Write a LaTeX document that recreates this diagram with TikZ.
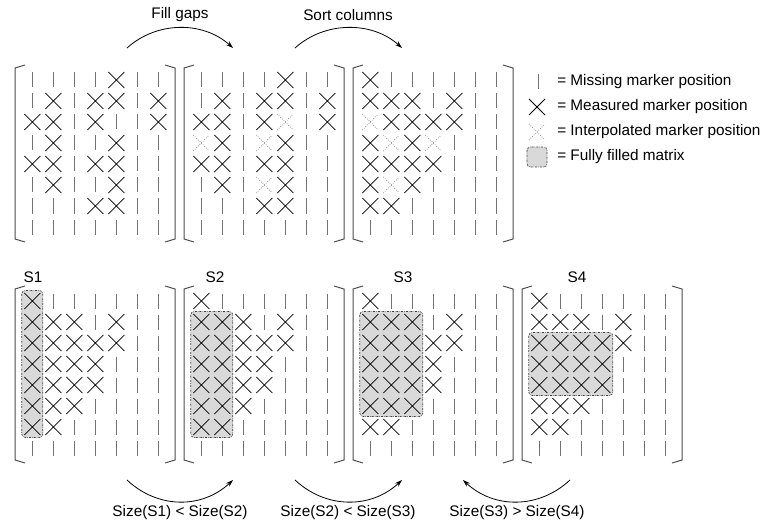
\documentclass[tikz,border=0pt]{standalone}
\usepackage{fontspec}
\setmainfont{Liberation Sans}
\usetikzlibrary{arrows.meta}

% Matrizen: m = fehlend, x = gemessen, i = interpoliert
\newcommand\rowsraw{%
{m,m,m,m,x,m,m},%
{m,x,m,x,x,m,x},%
{x,x,m,x,m,m,x},%
{m,x,m,m,x,m,m},%
{x,x,m,x,x,m,m},%
{m,x,m,m,x,m,m},%
{m,m,m,x,x,m,m},%
{m,m,m,m,m,m,m}}
\newcommand\rowsfill{%
{m,m,m,m,x,m,m},%
{m,x,m,x,x,m,x},%
{x,x,m,x,i,m,x},%
{i,x,m,i,x,m,m},%
{x,x,m,x,x,m,m},%
{m,x,m,i,x,m,m},%
{m,m,m,x,x,m,m},%
{m,m,m,m,m,m,m}}
\newcommand\rowssort{%
{x,m,m,m,m,m,m},%
{x,x,x,m,x,m,m},%
{i,x,x,x,x,m,m},%
{x,i,x,i,m,m,m},%
{x,x,x,x,m,m,m},%
{x,i,x,m,m,m,m},%
{x,x,m,m,m,m,m},%
{m,m,m,m,m,m,m}}
\newcommand\rowsfull{%
{x,m,m,m,m,m,m},%
{x,x,x,m,x,m,m},%
{x,x,x,x,x,m,m},%
{x,x,x,x,m,m,m},%
{x,x,x,x,m,m,m},%
{x,x,x,m,m,m,m},%
{x,x,m,m,m,m,m},%
{m,m,m,m,m,m,m}}

% ein Marker: #1 Typ, #2 x, #3 y
\newcommand\drawmark[3]{%
  \if x#1%
    \draw[measmark] ({#2-8},{#3-8}) -- ({#2+8},{#3+8}) ({#2-8},{#3+8}) -- ({#2+8},{#3-8});%
  \else\if i#1%
    \draw[interpmark] ({#2-8},{#3-8}) -- ({#2+8},{#3+8}) ({#2-8},{#3+8}) -- ({#2+8},{#3-8});%
  \else
    \draw[missmark] ({#2},{#3-7.5}) -- ({#2},{#3+7.5});%
  \fi\fi}

% Matrix mit Klammern: #1 links, #2 oben, #3 Zeilen
\newcommand\drawmatrix[3]{%
  \draw[bracketline] ({#1+10},{#2-2}) -- ({#1},{#2+1}) -- ({#1},{#2+172}) -- ({#1+10},{#2+175});
  \draw[bracketline] ({#1+150},{#2-2}) -- ({#1+160},{#2+1}) -- ({#1+160},{#2+172}) -- ({#1+150},{#2+175});
  \foreach \row [count=\ri] in #3 {
    \foreach \c [count=\ki] in \row {
      \pgfmathsetmacro\mx{#1+17.3+21*(\ki-1)}
      \pgfmathsetmacro\my{#2+13+21*(\ri-1)}
      \drawmark{\c}{\mx}{\my}
    }
  }}

\begin{document}
\begin{tikzpicture}[x=0.75pt, y=-0.75pt,
    missmark/.style={draw=black!55, line width=0.75pt},
    measmark/.style={draw=black, line width=0.55pt},
    interpmark/.style={draw=black!45, line width=0.6pt, dash pattern=on 0.5pt off 1.2pt},
    bracketline/.style={draw=black!70, line width=0.75pt},
    fullbox/.style={draw=black!75, fill=black!15, line width=0.5pt, rounded corners=2.5pt, dash pattern=on 1.5pt off 0.8pt on 0.4pt off 0.8pt},
    flowarc/.style={-{Stealth[length=5.5pt,width=3.6pt]}, line width=0.6pt},
    lbl/.style={font=\fontsize{11.5}{13.8}\selectfont, inner sep=0pt}
]
\useasboundingbox (0,0) rectangle (765,528);

% obere Reihe
\drawmatrix{15}{67}{\rowsraw}
\drawmatrix{184}{67}{\rowsfill}
\drawmatrix{353}{67}{\rowssort}

% Pfeile oben
\coordinate (fg-a) at (127,48);
\coordinate (fg-b) at (233,48);
\coordinate (sc-a) at (295,48);
\coordinate (sc-b) at (402,48);
\draw[flowarc] (fg-a) .. controls +(30,-27) and +(-30,-27) .. (fg-b);
\draw[flowarc] (sc-a) .. controls +(30,-27) and +(-30,-27) .. (sc-b);
\node[lbl] (fg-txt) at (180,15) {Fill gaps};
\node[lbl] (sc-txt) at (348,15) {Sort columns};

% Legende
\drawmark{m}{538}{82}
\drawmark{x}{537}{107}
\drawmark{i}{537}{132}
\draw[fullbox] (527,147) rectangle (547,167);
\node[lbl, anchor=west] (lg-miss) at (557,82) {= Missing marker position};
\node[lbl, anchor=west] (lg-meas) at (557,107) {= Measured marker position};
\node[lbl, anchor=west] (lg-interp) at (557,132) {= Interpolated marker position};
\node[lbl, anchor=west] (lg-full) at (557,157) {= Fully filled matrix};

% untere Reihe: vollstaendige Teilmatrizen
\draw[fullbox] (21.8,290.5) rectangle (42.8,437.5);
\draw[fullbox] (190.8,311.5) rectangle (232.8,437.5);
\draw[fullbox] (359.8,311.5) rectangle (422.8,416.5);
\draw[fullbox] (528.8,332.5) rectangle (612.8,395.5);
\drawmatrix{15}{288}{\rowsfull}
\drawmatrix{184}{288}{\rowsfull}
\drawmatrix{353}{288}{\rowsfull}
\drawmatrix{522}{288}{\rowsfull}
\node[lbl] (s1) at (33,277) {S1};
\node[lbl] (s2) at (215,277) {S2};
\node[lbl] (s3) at (403,277) {S3};
\node[lbl] (s4) at (577,277) {S4};

% Pfeile unten
\coordinate (c12-a) at (127,480);
\coordinate (c12-b) at (233,480);
\coordinate (c23-a) at (295,480);
\coordinate (c23-b) at (402,480);
\coordinate (c34-a) at (570,480);
\coordinate (c34-b) at (463,480);
\draw[flowarc] (c12-a) .. controls +(31,29) and +(-31,29) .. (c12-b);
\draw[flowarc] (c23-a) .. controls +(31,29) and +(-31,29) .. (c23-b);
\draw[flowarc] (c34-a) .. controls +(-31,29) and +(31,29) .. (c34-b);
\node[lbl] (c12-txt) at (180,513) {Size(S1) < Size(S2)};
\node[lbl] (c23-txt) at (348,513) {Size(S2) < Size(S3)};
\node[lbl] (c34-txt) at (517,513) {Size(S3) > Size(S4)};

\end{tikzpicture}
\end{document}
